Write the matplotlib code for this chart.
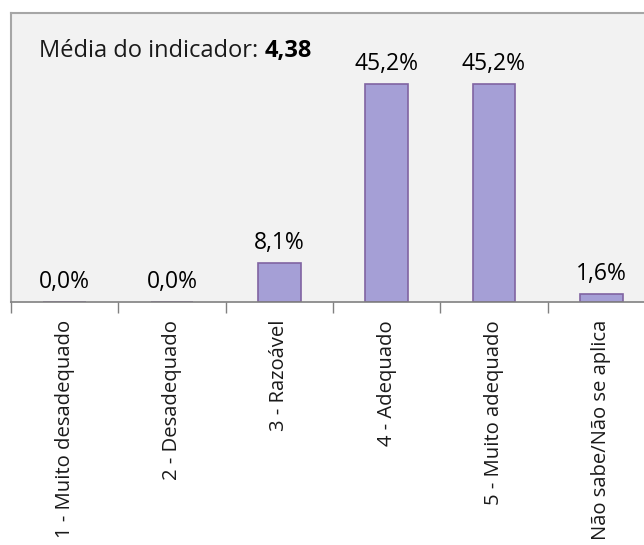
import matplotlib
matplotlib.use('Agg')
from matplotlib import pyplot as plt

categories = ['1 - Muito desadequado', '2 - Desadequado', '3 - Razoável',
              '4 - Adequado', '5 - Muito adequado', 'Não sabe/Não se aplica']
values = [0.0, 0.0, 8.1, 45.2, 45.2, 1.6]
labels = ['0,0%', '0,0%', '8,1%', '45,2%', '45,2%', '1,6%']
media = '4,38'

plt.rcParams['font.family'] = ['Open Sans', 'DejaVu Sans']

fig = plt.figure(figsize=(6.44, 5.45), dpi=100)
ax = fig.add_axes([11 / 644, 243 / 545, 644 / 644, 289 / 545])
ax.set_facecolor('#F2F2F2')

x = list(range(len(categories)))
ax.bar(x, values, width=0.4, color='#A59FD6', edgecolor='#8064A2', linewidth=1.2, zorder=2)

for xi, v, lab in zip(x, values, labels):
    ax.annotate(lab, xy=(xi, v), xytext=(0, 6), textcoords='offset points',
                ha='center', va='bottom', fontsize=16.5, color='black')

ax.set_xlim(-0.5, len(categories) - 0.5)
ax.set_ylim(0, 60)
ax.set_yticks([])

# labels at centres, tick marks at the boundaries
ax.set_xticks(x)
ax.set_xticklabels(categories, rotation=90, va='top', fontsize=14.6, color='#1a1a1a')
ax.tick_params(axis='x', which='major', length=0, pad=13)
ax.set_xticks([i - 0.5 for i in range(len(categories) + 1)], minor=True)
ax.tick_params(axis='x', which='minor', length=8, width=1, color='#808080', direction='out')

for side in ['left', 'top', 'right']:
    ax.spines[side].set_color('#A6A6A6')
    ax.spines[side].set_linewidth(1.5)
ax.spines['bottom'].set_color('#808080')
ax.spines['bottom'].set_linewidth(1.2)

t1 = ax.text(0.0435, 0.848, 'Média do indicador: ', transform=ax.transAxes,
             fontsize=17, color='#1a1a1a', va='baseline', ha='left')
ax.annotate(media, xy=(1, 0), xycoords=t1, va='bottom', ha='left',
            fontsize=17, fontweight='bold', color='black')

plt.savefig('out.png', dpi=100)
